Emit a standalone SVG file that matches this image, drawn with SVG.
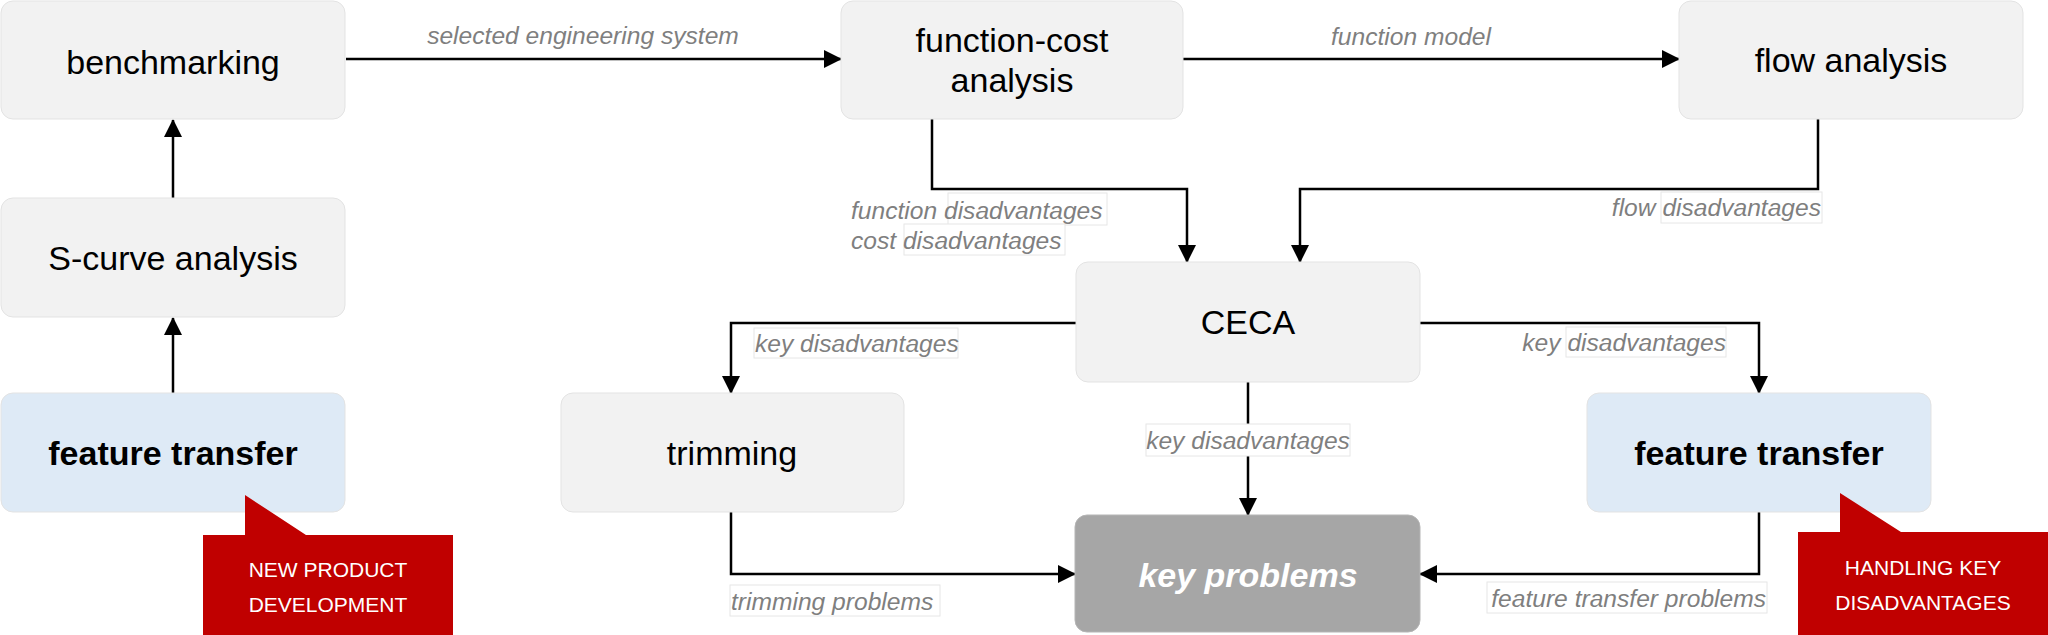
<svg xmlns="http://www.w3.org/2000/svg" width="2048" height="635" viewBox="0 0 2048 635">
<style>
.box{fill:#f2f2f2;stroke:#e3e3e3;stroke-width:1}
.blue{fill:#deeaf6;stroke:#e3e3e3;stroke-width:1}
.kp{fill:#a6a6a6;stroke:#b5b5b5;stroke-width:1}
.red{fill:#c00000}
.nt{font-family:"Liberation Sans",Arial,sans-serif;font-size:34px;fill:#000;text-anchor:middle}
.bt{font-weight:bold}
.kt{font-weight:bold;font-style:italic;fill:#fff}
.ct{font-family:"Liberation Sans",Arial,sans-serif;font-size:21px;fill:#fff;text-anchor:middle}
.lb{font-family:"Liberation Sans",Arial,sans-serif;font-size:24.6px;font-style:italic;fill:#7f7f7f}
.lbg{fill:#fff;stroke:#e6e6e6;stroke-width:1}
.cn{fill:none;stroke:#000;stroke-width:2.5;marker-end:url(#ah)}
</style>
<defs>
<marker id="ah" markerUnits="userSpaceOnUse" markerWidth="18" markerHeight="18" refX="17" refY="9" orient="auto">
<path d="M0,0 L18,9 L0,18 z" fill="#000"/>
</marker>
</defs>

<g id="connectors">
<path class="cn" d="M173,198 V120"/>
<path class="cn" d="M173,393 V318"/>
<path class="cn" d="M346,59 H841"/>
<path class="cn" d="M1183,59 H1679"/>
<path class="cn" d="M932,119 V189 H1187 V262"/>
<path class="cn" d="M1818,119 V189 H1300 V262"/>
<path class="cn" d="M1076,323 H731 V393"/>
<path class="cn" d="M1420,323 H1759 V393"/>
<path class="cn" d="M1248,382 V515"/>
<path class="cn" d="M731,512 V574 H1075"/>
<path class="cn" d="M1759,512 V574 H1420"/>
</g>

<g id="labels">
<text class="lb" x="583" y="43.5" text-anchor="middle">selected engineering system</text>
<text class="lb" x="1411" y="44.5" text-anchor="middle">function model</text>
<rect class="lbg" x="948" y="193" width="159" height="32"/>
<rect class="lbg" x="904" y="224" width="161" height="31"/>
<text class="lb" x="851" y="218.5">function disadvantages</text>
<text class="lb" x="851" y="248.5">cost disadvantages</text>
<rect class="lbg" x="1661" y="192" width="161" height="31"/>
<text class="lb" x="1821" y="215.5" text-anchor="end">flow disadvantages</text>
<rect class="lbg" x="754" y="328" width="204" height="30"/>
<text class="lb" x="755" y="351.5">key disadvantages</text>
<rect class="lbg" x="1566" y="327" width="160" height="30"/>
<text class="lb" x="1726" y="350.5" text-anchor="end">key disadvantages</text>
<rect class="lbg" x="1146" y="424" width="204" height="32"/>
<text class="lb" x="1248" y="448.5" text-anchor="middle">key disadvantages</text>
<rect class="lbg" x="730" y="585" width="210" height="31"/>
<text class="lb" x="731" y="609.5">trimming problems</text>
<rect class="lbg" x="1487" y="582" width="280" height="31"/>
<text class="lb" x="1766" y="606.5" text-anchor="end">feature transfer problems</text>
</g>

<g id="benchmarking">
<rect class="box" x="1" y="1" width="344" height="118" rx="12"/>
<text class="nt" x="173" y="74">benchmarking</text>
</g>
<g id="s-curve">
<rect class="box" x="1" y="198" width="344" height="119" rx="12"/>
<text class="nt" x="173" y="270">S-curve analysis</text>
</g>
<g id="feature-transfer-left">
<rect class="blue" x="1" y="393" width="344" height="119" rx="12"/>
<text class="nt bt" x="173" y="465">feature transfer</text>
</g>
<g id="callout-left">
<path class="red" d="M203,535 H245 V495 L306,535 H453 V635 H203 z"/>
<text class="ct" x="328" y="576.5">NEW PRODUCT</text>
<text class="ct" x="328" y="611.5">DEVELOPMENT</text>
</g>
<g id="function-cost">
<rect class="box" x="841" y="1" width="342" height="118" rx="12"/>
<text class="nt" x="1012" y="52">function-cost</text>
<text class="nt" x="1012" y="92">analysis</text>
</g>
<g id="flow-analysis">
<rect class="box" x="1679" y="1" width="344" height="118" rx="12"/>
<text class="nt" x="1851" y="72">flow analysis</text>
</g>
<g id="ceca">
<rect class="box" x="1076" y="262" width="344" height="120" rx="12"/>
<text class="nt" x="1248" y="334">CECA</text>
</g>
<g id="trimming">
<rect class="box" x="561" y="393" width="343" height="119" rx="12"/>
<text class="nt" x="732" y="465">trimming</text>
</g>
<g id="feature-transfer-right">
<rect class="blue" x="1587" y="393" width="344" height="119" rx="12"/>
<text class="nt bt" x="1759" y="465">feature transfer</text>
</g>
<g id="callout-right">
<path class="red" d="M1798,532 H1840 V493 L1901,532 H2048 V635 H1798 z"/>
<text class="ct" x="1923" y="574.5">HANDLING KEY</text>
<text class="ct" x="1923" y="609.5">DISADVANTAGES</text>
</g>
<g id="key-problems">
<rect class="kp" x="1075" y="515" width="345" height="117" rx="12"/>
<text class="nt kt" x="1248" y="587">key problems</text>
</g>
</svg>
